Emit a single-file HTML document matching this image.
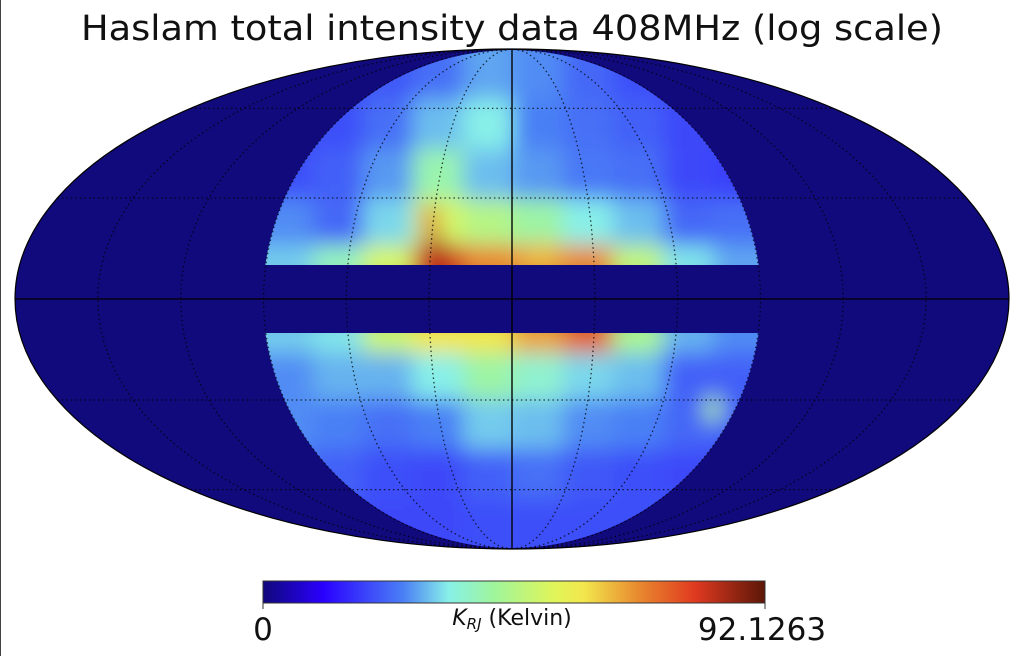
<!DOCTYPE html>
<html><head><meta charset="utf-8"><style>
html,body{margin:0;padding:0;background:#fff;width:1022px;height:656px;overflow:hidden}
svg{display:block;font-family:"DejaVu Sans","Liberation Sans",sans-serif}
</style></head><body>
<svg id="chart" width="1022" height="656" viewBox="0 0 1022 656">
<defs>
<clipPath id="diskClip"><circle cx="512" cy="299" r="249"/></clipPath>
<clipPath id="ellClip"><ellipse cx="512" cy="299" rx="497" ry="250"/></clipPath>
<filter id="blur" x="-10%" y="-10%" width="120%" height="120%"><feGaussianBlur stdDeviation="11"/></filter>
<linearGradient id="cbar" x1="0" x2="1" y1="0" y2="0"></linearGradient>
</defs>
<line x1="0.5" y1="0" x2="0.5" y2="656" stroke="#444" stroke-width="1"/>
<text x="512" y="40" text-anchor="middle" font-size="35" textLength="862" lengthAdjust="spacingAndGlyphs" fill="#111">Haslam total intensity data 408MHz (log scale)</text>
<ellipse cx="512" cy="299" rx="497" ry="250" fill="#110a7c"/>
<g clip-path="url(#diskClip)">
<g id="cells" filter="url(#blur)"></g>
</g>
<rect x="260" y="265" width="506" height="68" fill="#110a7c"/>
<g id="grat" clip-path="url(#ellClip)"></g>
<ellipse cx="512" cy="299" rx="497" ry="250" fill="none" stroke="#000" stroke-width="1.2"/>
<rect x="263" y="581" width="502" height="22" fill="url(#cbar)" stroke="#333" stroke-width="1"/>
<line x1="263" y1="603" x2="263" y2="609" stroke="#333"/>
<line x1="765" y1="603" x2="765" y2="609" stroke="#333"/>
<text x="263" y="640" text-anchor="middle" font-size="31" fill="#111">0</text>
<text x="762" y="640" text-anchor="middle" font-size="31" fill="#111">92.1263</text>
<text x="512" y="625" text-anchor="middle" font-size="22" fill="#111"><tspan font-style="italic">K</tspan><tspan font-style="italic" font-size="15" dy="4">RJ</tspan><tspan dy="-4"> (Kelvin)</tspan></text>
</svg>
<script>
// normalized intensity (0..1 of colour scale), columns span x 263..763 in 10 steps
const northRows = [
 [0.20,0.21,0.23,0.26,0.31,0.29,0.25,0.22,0.20,0.20],
 [0.21,0.22,0.26,0.33,0.37,0.28,0.26,0.24,0.21,0.21],
 [0.22,0.24,0.30,0.44,0.33,0.30,0.27,0.26,0.21,0.20],
 [0.29,0.25,0.35,0.56,0.50,0.45,0.37,0.33,0.25,0.26],
 [0.34,0.42,0.56,0.88,0.75,0.72,0.75,0.52,0.36,0.31]
];
const southRows = [
 [0.34,0.36,0.54,0.64,0.64,0.72,0.80,0.48,0.32,0.29],
 [0.29,0.32,0.32,0.37,0.45,0.40,0.35,0.33,0.24,0.24],
 [0.29,0.28,0.26,0.28,0.34,0.33,0.29,0.28,0.25,0.24],
 [0.26,0.24,0.22,0.21,0.24,0.26,0.23,0.22,0.21,0.21],
 [0.24,0.23,0.21,0.21,0.22,0.22,0.22,0.22,0.23,0.24]
];
// compact sources: [x-fraction across disk, y-fraction down the map, value]
const hotspotPos = [[0.335,0.34],[0.34,0.39],[0.35,0.41],[0.9,0.72],[0.56,0.41]];
const hotspotVal = [0.82,0.9,0.92,0.5,0.68];
const cmapStops = [0,0.12,0.28,0.37,0.46,0.58,0.64,0.75,0.86,1];
const cmapColors = ['#10087a','#2a00ff','#4a80f5','#88f0e8','#9ff59c','#e0f55a','#f2e64c','#e8882e','#e03a20','#5c1608'];

const NS='http://www.w3.org/2000/svg';
function hex(c){return [1,3,5].map(i=>parseInt(c.substr(i,2),16));}
function cmap(v){
  v=Math.max(0,Math.min(1,v));
  for(let i=1;i<cmapStops.length;i++){
    if(v<=cmapStops[i]){
      const t=(v-cmapStops[i-1])/(cmapStops[i]-cmapStops[i-1]);
      const a=hex(cmapColors[i-1]),b=hex(cmapColors[i]);
      return 'rgb('+a.map((x,k)=>Math.round(x+(b[k]-x)*t)).join(',')+')';
    }
  }
  return cmapColors[cmapColors.length-1];
}
const grad=document.getElementById('cbar');
cmapStops.forEach((s,i)=>{const st=document.createElementNS(NS,'stop');st.setAttribute('offset',s);st.setAttribute('stop-color',cmapColors[i]);grad.appendChild(st);});

const X0=263,W=500,cw=W/10;
const northEdges=[49,99,149,199,245,265], southEdges=[333,353,399,449,499,549];
const cells=document.getElementById('cells');
function drawRows(rows,edges){
  const n=rows.length;
  rows.forEach((row,r)=>row.forEach((v,c)=>{
    const e=document.createElementNS(NS,'rect');
    const y0=edges[r]-(r===0?20:0), y1=edges[r+1]+(r===n-1?20:0);
    e.setAttribute('x',X0+c*cw-(c===0?30:0));
    e.setAttribute('y',y0);
    e.setAttribute('width',cw+(c===0||c===9?30:0)+0.5);
    e.setAttribute('height',y1-y0+0.5);
    e.setAttribute('fill',cmap(v));
    
    
    cells.appendChild(e);
  }));
}
drawRows(northRows,northEdges);
drawRows(southRows,southEdges);
hotspotPos.forEach((p,i)=>{
  const e=document.createElementNS(NS,'ellipse');
  e.setAttribute('cx',X0+p[0]*W);
  e.setAttribute('cy',49+p[1]*500);
  e.setAttribute('rx',8);e.setAttribute('ry',14);
  e.setAttribute('fill',cmap(hotspotVal[i]));
  
  
  cells.appendChild(e);
});

// Mollweide graticule
const cx=512,cy=299,A=497,B=250;
function theta(phi){let t=phi;for(let i=0;i<30;i++){const f=2*t+Math.sin(2*t)-Math.PI*Math.sin(phi);t-=f/(2+2*Math.cos(2*t)+1e-9);}return t;}
function proj(lon,lat){const t=theta(lat*Math.PI/180);return [cx+A*(lon/180)*Math.cos(t),cy-B*Math.sin(t)];}
const grat=document.getElementById('grat');
function line(pts,solid,name){
  const p=document.createElementNS(NS,'polyline');
  p.setAttribute('points',pts.map(q=>q[0].toFixed(1)+','+q[1].toFixed(1)).join(' '));
  p.setAttribute('fill','none');p.setAttribute('stroke','#000');
  p.setAttribute('stroke-width',solid?1.6:1.3);
  if(!solid)p.setAttribute('stroke-dasharray','1.5 3');
  p.setAttribute('opacity',solid?0.85:0.75);
  
  
  grat.appendChild(p);
}
for(let lon=-150;lon<=150;lon+=30){
  const pts=[];for(let la=-90;la<=90;la+=2)pts.push(proj(lon,la));
  line(pts,lon===0,'meridian');
}
for(let la=-60;la<=60;la+=30){
  const pts=[];for(let lo=-180;lo<=180;lo+=5)pts.push(proj(lo,la));
  line(pts,la===0,'parallel');
}
</script>
</body></html>
